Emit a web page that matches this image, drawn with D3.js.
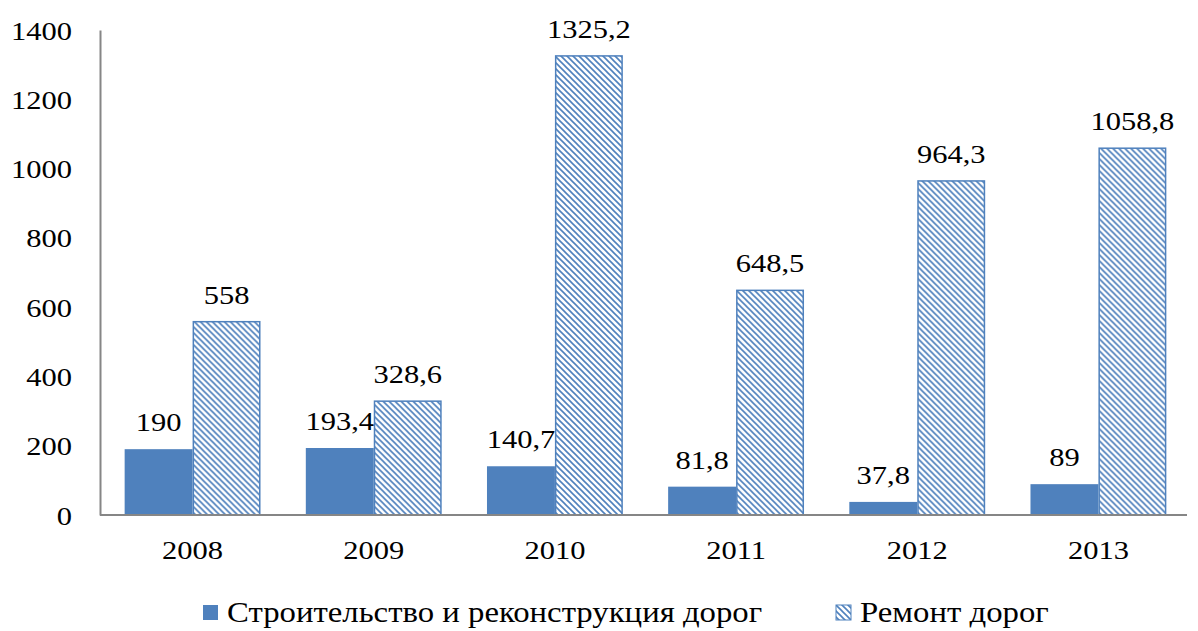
<!DOCTYPE html>
<html>
<head>
<meta charset="utf-8">
<script src="https://cdn.jsdelivr.net/npm/d3@7"></script>
<style>
  body { margin: 0; background: #fff; }
</style>
</head>
<body>
<div id="chart"></div>
<script>
// ---------------- data ----------------
const years = ["2008", "2009", "2010", "2011", "2012", "2013"];
const construction = [190, 193.4, 140.7, 81.8, 37.8, 89];
const repair = [558, 328.6, 1325.2, 648.5, 964.3, 1058.8];
const seriesNames = ["Строительство и реконструкция дорог", "Ремонт дорог"];
const yTicks = [0, 200, 400, 600, 800, 1000, 1200, 1400];

// ---------------- layout ----------------
const width = 1198, height = 631;
const blue = "#4F81BD";
const axisGrey = "#868686";
const serif = '"Liberation Serif"';
const stretch = 1.22; // source text looks horizontally widened

const svg = d3.select("#chart").append("svg")
    .attr("width", width)
    .attr("height", height)
    .style("font-family", serif);

// hatch pattern for "Ремонт дорог"
const defs = svg.append("defs");
const pat = defs.append("pattern")
    .attr("id", "hatch")
    .attr("patternUnits", "userSpaceOnUse")
    .attr("width", 6)
    .attr("height", 6);
pat.append("rect").attr("width", 6).attr("height", 6).attr("fill", "#fff");
pat.append("path")
    .attr("d", "M-1,-1L7,7M-1,5L1,7M5,-1L7,1")
    .attr("stroke", blue)
    .attr("stroke-width", 1.6);

const x = d3.scaleBand()
    .domain(years)
    .range([102, 1189])
    .paddingInner(0.25)
    .paddingOuter(0.125);

const xSub = d3.scaleBand()
    .domain([0, 1])
    .range([0, x.bandwidth()]);

const y = d3.scaleLinear()
    .domain([0, 1400])
    .range([515, 30]);

// widen text glyphs horizontally: move x/y into a transform with a scaleX
function widen(sel, factor) {
    sel.each(function () {
        const t = d3.select(this);
        const tx = +t.attr("x") || 0;
        const ty = +t.attr("y") || 0;
        t.attr("x", 0).attr("y", 0)
            .attr("transform", `translate(${tx},${ty}) scale(${factor},1)`);
    });
}

// ---------------- bars ----------------
const groups = svg.selectAll(".year")
    .data(years)
    .join("g")
    .attr("class", "year")
    .attr("transform", d => `translate(${x(d)},0)`);

groups.append("rect")
    .attr("x", xSub(0))
    .attr("y", (d, i) => y(construction[i]))
    .attr("width", xSub.bandwidth())
    .attr("height", (d, i) => y(0) - y(construction[i]))
    .attr("fill", blue);

groups.append("rect")
    .attr("x", xSub(1) + 0.75)
    .attr("y", (d, i) => y(repair[i]))
    .attr("width", xSub.bandwidth() - 1.5)
    .attr("height", (d, i) => y(0) - y(repair[i]))
    .attr("fill", "url(#hatch)")
    .attr("stroke", blue)
    .attr("stroke-width", 1.5);

// value labels
const fmt = v => String(v).replace(".", ",");
groups.append("text")
    .attr("x", xSub(0) + xSub.bandwidth() / 2)
    .attr("y", (d, i) => y(construction[i]) - 18)
    .attr("text-anchor", "middle")
    .style("font-family", serif)
    .style("font-size", "25px")
    .text((d, i) => fmt(construction[i]))
    .call(widen, stretch);

groups.append("text")
    .attr("x", xSub(1) + xSub.bandwidth() / 2)
    .attr("y", (d, i) => y(repair[i]) - 18)
    .attr("text-anchor", "middle")
    .style("font-family", serif)
    .style("font-size", "25px")
    .text((d, i) => fmt(repair[i]))
    .call(widen, stretch);

// ---------------- axes ----------------
const yAxis = svg.append("g")
    .attr("transform", "translate(100,0)")
    .call(d3.axisLeft(y).tickValues(yTicks).tickFormat(d3.format("d")).tickSize(0).tickPadding(28));
yAxis.attr("font-family", null);
yAxis.select(".domain").attr("stroke", axisGrey).attr("stroke-width", 2);
yAxis.selectAll("text")
    .attr("fill", "#000")
    .attr("dy", "0.36em")
    .style("font-size", "25px")
    .style("font-family", serif)
    .call(widen, stretch);

const xAxis = svg.append("g")
    .attr("transform", "translate(0,515)")
    .call(d3.axisBottom(x).tickSize(0).tickPadding(26));
xAxis.attr("font-family", null);
xAxis.select(".domain").attr("stroke", axisGrey).attr("stroke-width", 2)
    .attr("d", "M100,0H1187");
xAxis.selectAll("text")
    .attr("fill", "#000")
    .style("font-size", "25px")
    .style("font-family", serif)
    .call(widen, stretch);

// ---------------- legend ----------------
const legendItems = [
    { name: seriesNames[0], fill: blue, x: 203, stroke: "none" },
    { name: seriesNames[1], fill: "url(#hatch)", x: 836, stroke: blue }
];
const legend = svg.selectAll(".legend")
    .data(legendItems)
    .join("g")
    .attr("class", "legend")
    .attr("transform", d => `translate(${d.x},605)`);

legend.append("rect")
    .attr("width", 15)
    .attr("height", 15)
    .attr("fill", d => d.fill)
    .attr("stroke", d => d.stroke);

legend.append("text")
    .attr("x", 24)
    .attr("y", 17)
    .style("font-family", serif)
    .style("font-size", "29px")
    .text(d => d.name)
    .call(widen, 1.13);
</script>
</body>
</html>
